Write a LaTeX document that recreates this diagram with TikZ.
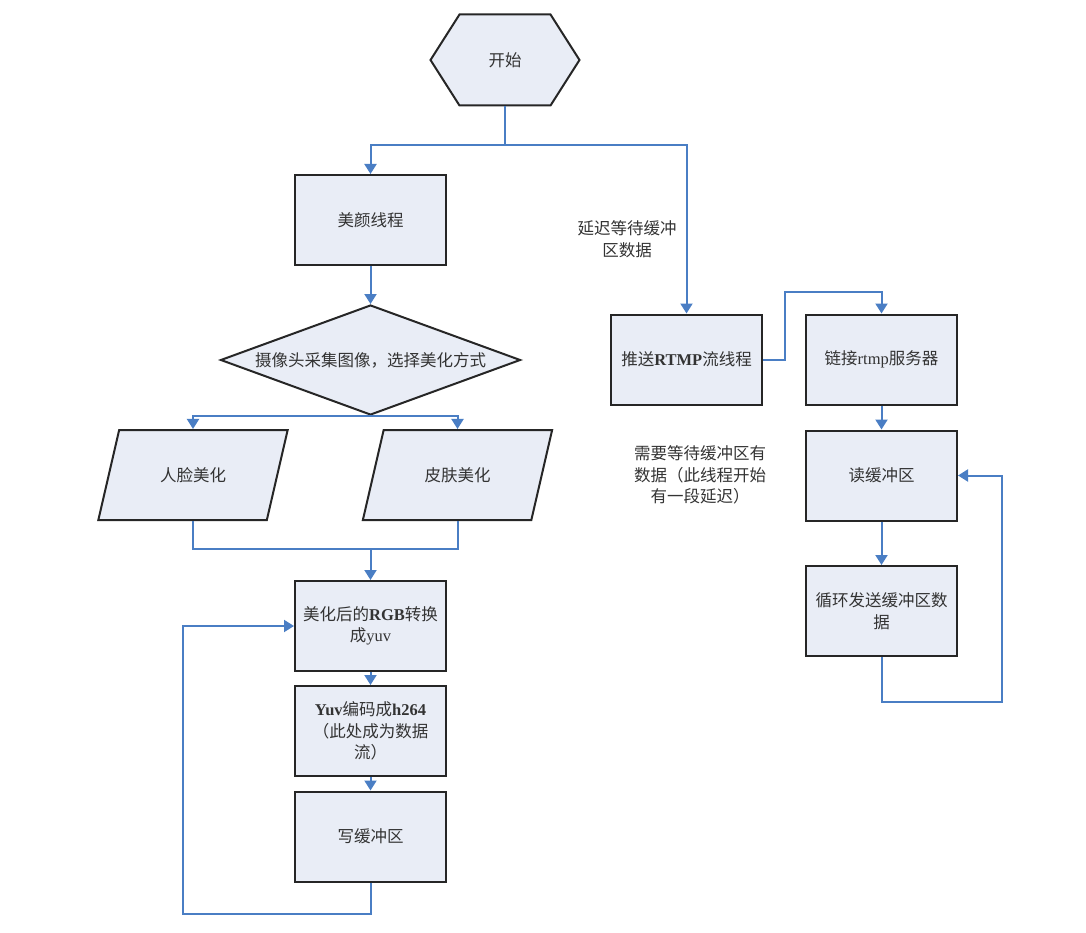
\documentclass[tikz,border=0pt]{standalone}
\usepackage{fontspec}
\setmainfont{Noto Sans CJK SC}
\newfontfamily\lat{Liberation Serif}
\usetikzlibrary{shapes.geometric,shapes.symbols,arrows.meta,calc}
\definecolor{boxfill}{HTML}{E9EDF6}
\definecolor{boxline}{HTML}{262626}
\definecolor{linkblue}{HTML}{4A7EC4}
\definecolor{textgray}{HTML}{333333}

\begin{document}
\begin{tikzpicture}[x=1pt, y=-1pt, >={Triangle[width=12pt,length=10pt]},
  every node/.style={font=\fontsize{16.5}{21.5}\selectfont, text=textgray},
  shaped/.style={draw=boxline, fill=boxfill, line width=2pt, align=center},
  box/.style={shaped, minimum width=151pt, minimum height=90pt, inner sep=2pt},
  hexa/.style={shaped, signal, signal to=east and west, signal pointer angle=115,
    minimum width=149pt, minimum height=91pt},
  choice/.style={shaped, diamond, aspect=2.73, inner sep=0pt, minimum width=300pt, minimum height=110pt},
  slanted/.style={shaped, trapezium, trapezium left angle=65, trapezium right angle=115,
    trapezium stretches=true, minimum width=190pt, minimum height=90pt},
  link/.style={draw=linkblue, line width=2pt}]
  \useasboundingbox (0,0) rectangle (1086,933);

  % left column
  \node[hexa] (start) at (505,60) {开始};
  \node[box] (beauty) at (370.5,220) {美颜线程};
  \node[choice] (choose) at (370.5,360) {摄像头采集图像，选择美化方式};
  \node[slanted] (face) at (193,475) {人脸美化};
  \node[slanted] (skin) at (457.5,475) {皮肤美化};
  \node[box] (convert) at (370.5,626) {美化后的{\lat\bfseries RGB}转换\\成{\lat yuv}};
  \node[box] (encode) at (370.5,731) {{\lat\bfseries Yuv}编码成{\lat\bfseries h264}\\（此处成为数据\\流）};
  \node[box] (write) at (370.5,836.5) {写缓冲区};

  % right column
  \node[box] (push) at (686.5,359.5) {推送{\lat\bfseries RTMP}流线程};
  \node[box] (connect) at (881.5,359.5) {链接{\lat rtmp}服务器};
  \node[box] (read) at (881.5,475.5) {读缓冲区};
  \node[box] (send) at (881.5,611) {循环发送缓冲区数\\据};

  \node[align=center] (delay) at (627,239) {延迟等待缓冲\\区数据};
  \node[align=center] (wait) at (700,475) {需要等待缓冲区有\\数据（此线程开始\\有一段延迟）};

  % connectors
  \draw[link] (start.south) -- ++(0,39) coordinate (fork);
  \draw[link,->] (fork) -| (beauty.north);
  \draw[link,->] (fork) -| (push.north);
  \foreach \a/\b in {beauty/choose, convert/encode, encode/write, connect/read, read/send}
    \draw[link,->] (\a) -- (\b);
  \draw[link,->] (choose.south) -| (face.north);
  \draw[link,->] (choose.south) -| (skin.north);
  \coordinate (join) at ($(convert.north)+(0,-31)$);
  \draw[link] (face.south) |- (join) -| (skin.south);
  \draw[link,->] (join) -- (convert.north);
  \draw[link,->] (write.south) -- ++(0,31) -| ($(convert.west)+(-111,0)$) -- (convert.west);
  \draw[link,->] (push.east) -- ++(22,0) |- ($(connect.north)+(0,-22)$) -- (connect.north);
  \draw[link,->] (send.south) -- ++(0,45) -| ($(read.east)+(44,0)$) -- (read.east);
\end{tikzpicture}
\end{document}
